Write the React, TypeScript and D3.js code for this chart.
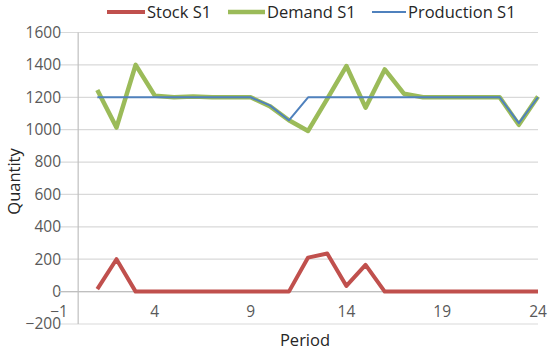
import * as React from "react";
import * as d3 from "d3";

const periods = [1, 2, 3, 4, 5, 6, 7, 8, 9, 10, 11, 12, 13, 14, 15, 16, 17, 18, 19, 20, 21, 22, 23, 24];
const stock = [15, 200, 0, 0, 0, 0, 0, 0, 0, 0, 0, 210, 235, 35, 165, 0, 0, 0, 0, 0, 0, 0, 0, 0];
const demand = [1245, 1013, 1400, 1210, 1200, 1205, 1200, 1200, 1200, 1145, 1058, 992, 1190, 1393, 1136, 1372, 1222, 1200, 1200, 1200, 1200, 1200, 1030, 1205];
const production = [1200, 1200, 1200, 1200, 1200, 1200, 1200, 1200, 1200, 1150, 1058, 1200, 1200, 1200, 1200, 1200, 1200, 1200, 1200, 1200, 1200, 1200, 1040, 1200];
const xTicks = [-1, 4, 9, 14, 19, 24];
const yTicks = [-200, 0, 200, 400, 600, 800, 1000, 1200, 1400, 1600];

const series = [
    { name: "Stock S1", values: stock, color: "#C0504D", width: 4 },
    { name: "Demand S1", values: demand, color: "#9BBB59", width: 4.5 },
    { name: "Production S1", values: production, color: "#4F81BD", width: 2 },
];

const font = "'Open Sans', sans-serif";

export default function App() {
    const x = d3.scaleLinear().domain([-1, 24]).range([59, 538]);
    const y = d3.scaleLinear().domain([-200, 1600]).range([324, 32.5]);

    const line = (vals: number[]) =>
        d3.line<number>()
            .x((_d, i) => x(periods[i]))
            .y(d => y(d))(vals) || "";

    const legendX = [107, 228, 372];
    const legendLen = [38, 37, 34];

    return (
        <svg width={550} height={350} style={{ position: "absolute", left: 0, top: 0 }}>
            <rect width={550} height={350} fill="#fff" />
            {yTicks.map(t => (
                <g key={t}>
                    <line x1={x(-1)} x2={x(24)} y1={y(t)} y2={y(t)} stroke="#D9D9D9" strokeWidth={1.2} />
                    <text x={61} y={y(t)} dy="0.35em" textAnchor="end" fontFamily={font} fontSize={15.5} fill="#595959">
                        {t === -200 ? "\u2212200" : t}
                    </text>
                </g>
            ))}
            <line x1={x(0)} x2={x(0)} y1={y(1600)} y2={y(-200)} stroke="#BFBFBF" strokeWidth={1.2} />
            <line x1={x(-1)} x2={x(24)} y1={y(0)} y2={y(0)} stroke="#BFBFBF" strokeWidth={1.2} />
            {xTicks.map(t => (
                <text key={t} x={x(t)} y={y(0) + 20} dy="0.35em" textAnchor="middle" fontFamily={font} fontSize={15.5} fill="#595959">
                    {t < 0 ? "\u2212" + Math.abs(t) : t}
                </text>
            ))}
            {series.map(s => (
                <path key={s.name} d={line(s.values)} fill="none" stroke={s.color} strokeWidth={s.width} strokeLinejoin="round" />
            ))}
            {series.map((s, i) => (
                <g key={s.name}>
                    <line x1={legendX[i]} x2={legendX[i] + legendLen[i]} y1={12} y2={12} stroke={s.color} strokeWidth={s.width} />
                    <text x={legendX[i] + legendLen[i] + 2} y={12} dy="0.35em" fontFamily={font} fontSize={16.5} fill="#262626">
                        {s.name}
                    </text>
                </g>
            ))}
            <text transform={`translate(14,${y(680)}) rotate(-90)`} dy="0.35em" textAnchor="middle" fontFamily={font} fontSize={16.5} fill="#262626">
                Quantity
            </text>
            <text x={305} y={340} dy="0.35em" textAnchor="middle" fontFamily={font} fontSize={16.5} fill="#262626">
                Period
            </text>
        </svg>
    );
}
